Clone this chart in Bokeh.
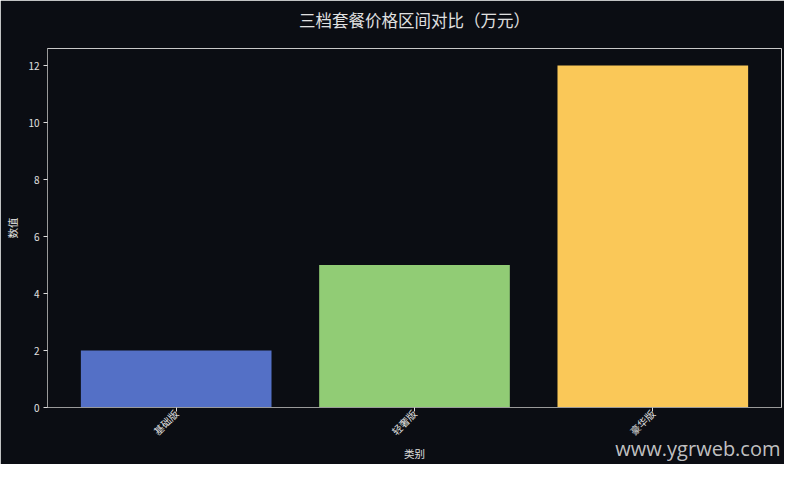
import math
from bokeh.plotting import figure
from bokeh.models import Title, FactorRange, FixedTicker, ColumnDataSource
from bokeh.embed import file_html
from bokeh.resources import INLINE

# ---- data ----
categories = ["基础版", "轻奢版", "豪华版"]
prices = [2, 5, 12]
bar_colors = ["#5470c6", "#91cc75", "#fac858"]
y_ticks = [0, 2, 4, 6, 8, 10, 12]
title_text = "三档套餐价格区间对比（万元）"
x_label = "类别"
y_label = "数值"
watermark = "www.ygrweb.com"

BG = "#0b0d13"
FONT = "Noto Sans CJK SC"
TXT = "#e0e0e0"

source = ColumnDataSource(data=dict(cat=categories, price=prices, color=bar_colors))

p = figure(
    x_range=FactorRange(factors=categories, range_padding=0.04, range_padding_units="absolute"),
    y_range=(0, 12.6),
    width=784, height=464,
    output_backend="svg", toolbar_location=None,
    title=title_text,
    min_border_left=47, min_border_right=3, min_border_top=48, min_border_bottom=52,
)
p.background_fill_color = BG
p.border_fill_color = BG
p.outline_line_color = "#c8c8c8"
p.outline_line_width = 1

p.vbar(x="cat", top="price", width=0.8, fill_color="color", line_color=None, source=source)

p.xgrid.visible = False
p.ygrid.visible = False

p.title.align = "center"
p.title.text_font = FONT
p.title.text_font_size = "16.5px"
p.title.text_font_style = "normal"
p.title.text_color = TXT
p.title.standoff = 0
p.title.padding = dict(left=0, right=0, top=0, bottom=17)

for ax in (p.xaxis[0], p.yaxis[0]):
    ax.axis_line_color = "#9a9a9a"
    ax.major_tick_line_color = "#dddddd"
    ax.minor_tick_line_color = None
    ax.major_tick_out = 4
    ax.major_tick_in = 0
    ax.major_label_text_font = FONT
    ax.major_label_text_font_size = "10px"
    ax.major_label_text_color = TXT
    ax.axis_label_text_font = FONT
    ax.axis_label_text_font_size = "10.5px"
    ax.axis_label_text_font_style = "normal"
    ax.axis_label_text_color = TXT

p.yaxis.ticker = FixedTicker(ticks=y_ticks)
p.yaxis.axis_label = y_label
p.yaxis.major_label_standoff = 4
p.yaxis.axis_label_standoff = 5

p.xaxis.axis_label = x_label
p.xaxis.major_label_orientation = math.pi / 4
p.xaxis.major_label_standoff = 0
p.xaxis.axis_label_standoff = 0

wm = Title(
    text=watermark, align="right", vertical_align="bottom",
    standoff=-74, offset=1,
    text_font="Open Sans", text_font_size="20px", text_font_style="normal",
    text_color="#d8d8d8", text_alpha=0.9,
)
wm.padding = dict(left=0, right=0, top=0, bottom=40)
p.add_layout(wm, "below")

open("out.html", "w").write(file_html(p, INLINE))
